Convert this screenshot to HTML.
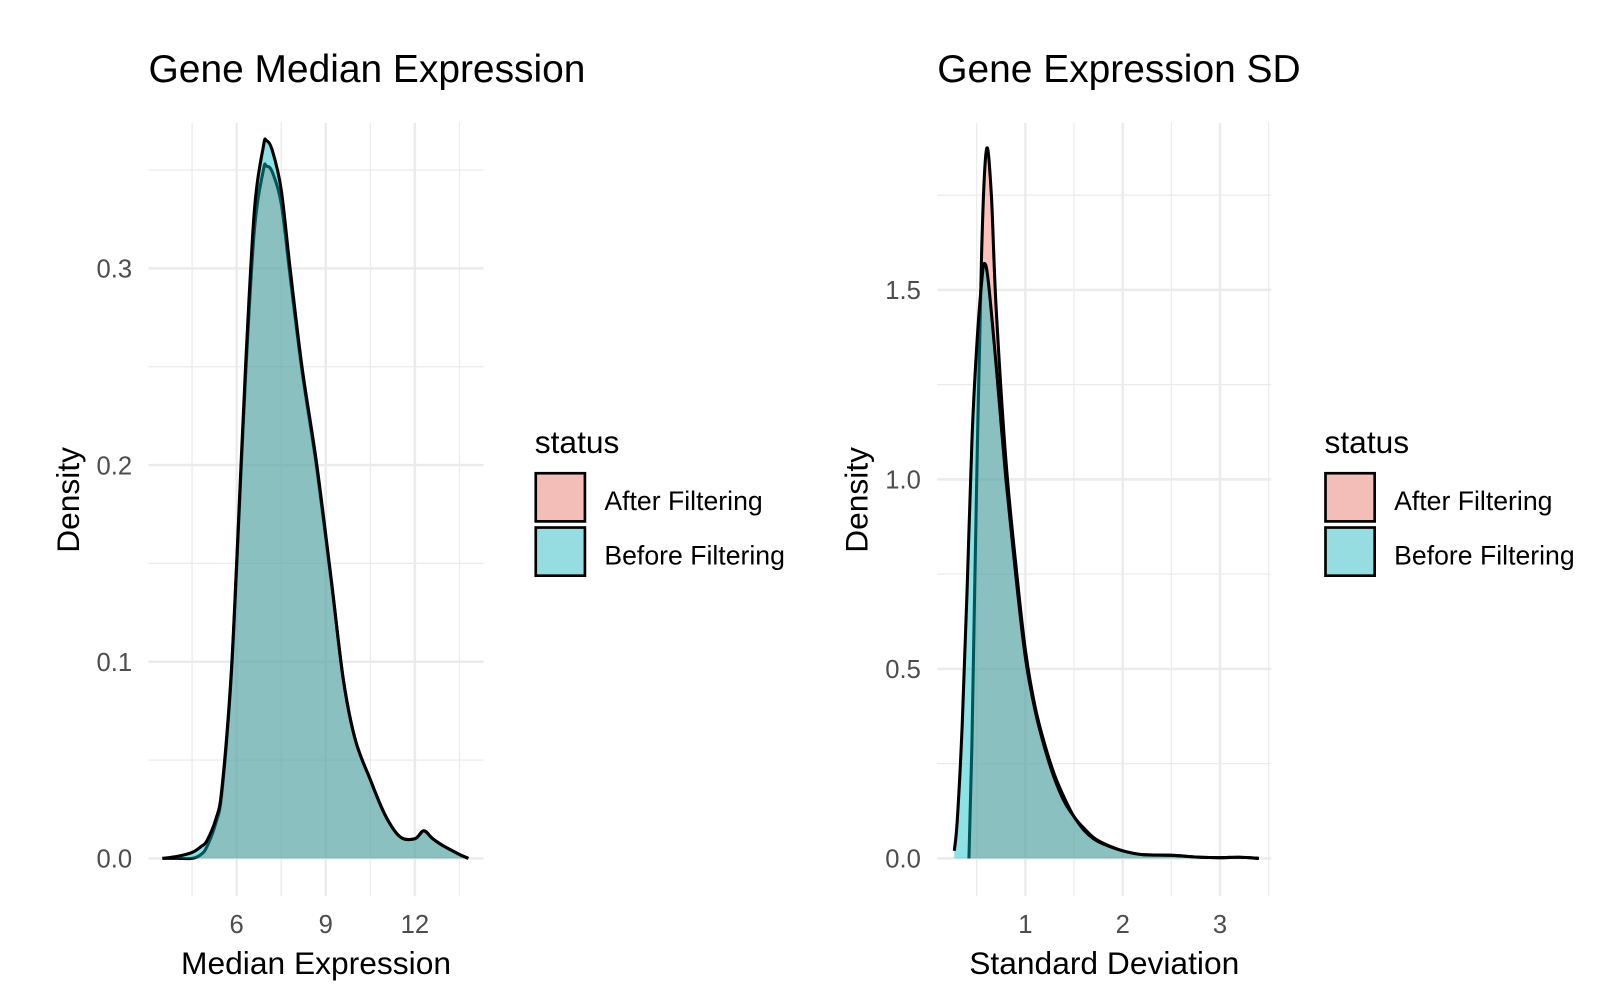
<!DOCTYPE html>
<html><head><meta charset="utf-8"><style>
html,body{margin:0;padding:0;background:#fff;}
svg{display:block;font-family:"Liberation Sans",Arial,sans-serif;}
</style></head><body>
<svg id="chart" width="1598" height="1002" viewBox="0 0 1560 978.2" xmlns="http://www.w3.org/2000/svg">
<rect width="1560" height="979" fill="#fff"/>
<g id="p1"></g>
<g id="p2"></g>
</svg>
<script>
// Panel 1 data: Median Expression density
const medX = [3.5,4.0,4.5,4.8,5.0,5.3,5.5,5.8,6.0,6.3,6.6,6.9,7.0,7.2,7.5,7.8,8.2,8.7,9.2,9.6,10.0,10.5,11.0,11.5,12.0,12.3,12.6,13.0,13.5,13.8];
const medAfter = [0,0,0,0.002,0.006,0.018,0.033,0.088,0.148,0.245,0.32,0.350,0.352,0.349,0.333,0.296,0.248,0.198,0.139,0.09,0.06,0.04,0.022,0.011,0.01,0.014,0.01,0.006,0.002,0];
const medBefore = [0,0.001,0.003,0.006,0.009,0.02,0.035,0.09,0.15,0.25,0.33,0.362,0.365,0.36,0.34,0.30,0.25,0.20,0.14,0.09,0.06,0.04,0.022,0.011,0.01,0.014,0.01,0.006,0.002,0];
const medXTicks = [6,9,12];
const medYTicks = [0.0,0.1,0.2,0.3];
const medYLabels = ["0.0","0.1","0.2","0.3"];
// Panel 2 data: SD density
const sdAfterX = [0.42,0.45,0.5,0.55,0.6,0.65,0.7,0.8,0.9,1.0,1.1,1.2,1.3,1.4,1.5,1.6,1.7,1.8,2.0,2.2,2.5,2.8,3.0,3.2,3.4];
const sdAfter = [0,0.3,1.0,1.6,1.87,1.75,1.45,1.05,0.78,0.55,0.4,0.3,0.22,0.16,0.11,0.08,0.055,0.04,0.02,0.01,0.008,0.003,0.002,0.003,0];
const sdBeforeX = [0.27,0.3,0.35,0.4,0.45,0.5,0.55,0.58,0.62,0.7,0.8,0.9,1.0,1.1,1.2,1.3,1.4,1.5,1.6,1.7,1.8,2.0,2.2,2.5,2.8,3.0,3.2,3.4];
const sdBefore = [0.02,0.1,0.35,0.7,1.1,1.35,1.52,1.57,1.52,1.3,1.0,0.75,0.53,0.39,0.29,0.21,0.15,0.11,0.075,0.052,0.038,0.02,0.01,0.008,0.003,0.002,0.003,0];
const sdXTicks = [1,2,3];
const sdYTicks = [0,0.5,1.0,1.5];
const sdYLabels = ["0.0","0.5","1.0","1.5"];
const statusLabels = ["After Filtering","Before Filtering"];

const NS="http://www.w3.org/2000/svg";
function mk(parent,tag,attrs,text){const e=document.createElementNS(NS,tag);for(const k in attrs)e.setAttribute(k,attrs[k]);if(text!==undefined)e.textContent=text;parent.appendChild(e);return e;}
function smooth(pts){
  let d='M'+pts[0][0].toFixed(1)+','+pts[0][1].toFixed(1);
  for(let i=0;i<pts.length-1;i++){
    const p0=pts[Math.max(0,i-1)],p1=pts[i],p2=pts[i+1],p3=pts[Math.min(pts.length-1,i+2)];
    const c1=[p1[0]+(p2[0]-p0[0])/6,p1[1]+(p2[1]-p0[1])/6];
    const c2=[p2[0]-(p3[0]-p1[0])/6,p2[1]-(p3[1]-p1[1])/6];
    d+=' C'+c1[0].toFixed(1)+','+c1[1].toFixed(1)+' '+c2[0].toFixed(1)+','+c2[1].toFixed(1)+' '+p2[0].toFixed(1)+','+p2[1].toFixed(1);
  }
  return d;
}

function panel(g,cfg){
  const sx=v=>cfg.x0px+(v-cfg.x0)*cfg.xs;
  const sy=v=>838-v*cfg.ys;
  for(const v of cfg.xMinor){const l=mk(g,'line',{x1:sx(v),x2:sx(v),y1:cfg.top,y2:875,stroke:'#ebebeb','stroke-width':1.2});
    
    }
  for(const v of cfg.yMinor){const l=mk(g,'line',{x1:cfg.left,x2:cfg.right,y1:sy(v),y2:sy(v),stroke:'#ebebeb','stroke-width':1.2});
    
    }
  cfg.xt.forEach(v=>{const l=mk(g,'line',{x1:sx(v),x2:sx(v),y1:cfg.top,y2:875,stroke:'#ebebeb','stroke-width':2.4});
    
    
    const t=mk(g,'text',{x:sx(v),y:911,'text-anchor':'middle','font-size':25,fill:'#4d4d4d'},String(v));
    
    });
  cfg.yt.forEach((v,i)=>{const l=mk(g,'line',{x1:cfg.left,x2:cfg.right,y1:sy(v),y2:sy(v),stroke:'#ebebeb','stroke-width':2.4});
    
    
    const t=mk(g,'text',{x:cfg.left-16,y:sy(v)+9,'text-anchor':'end','font-size':25,fill:'#4d4d4d'},cfg.yl[i]);
    
    });
  const series=[[cfg.ax,cfg.ay,'#F8766D','after-filtering-density'],[cfg.bx,cfg.by,'#00BFC4','before-filtering-density']];
  series.forEach(([xs,ys,c,n])=>{
    const pts=xs.map((x,i)=>[sx(x),sy(ys[i])]);
    const line=smooth(pts);
    const d=line+' L'+sx(xs[xs.length-1]).toFixed(1)+','+sy(0)+' L'+sx(xs[0]).toFixed(1)+','+sy(0)+' Z';
    mk(g,'path',{d:d,fill:c,'fill-opacity':0.45,stroke:'none'});
    const p=mk(g,'path',{d:line,fill:'none',stroke:'#000','stroke-width':3,'stroke-linejoin':'round'});
    
    
  });
  const title=mk(g,'text',{x:cfg.left,y:80,'font-size':38,fill:'#000'},cfg.title);
  
  
  const xl=mk(g,'text',{x:(cfg.left+cfg.right)/2,y:951,'text-anchor':'middle','font-size':31,fill:'#000'},cfg.xlab);
  
  
  const yl=mk(g,'text',{x:0,y:0,'text-anchor':'middle','font-size':31,fill:'#000',transform:'translate('+(cfg.left-68)+',488) rotate(-90)'},'Density');
  
  
  const lx=cfg.legX;
  const lt=mk(g,'text',{x:lx,y:442,'font-size':31,fill:'#000'},'status');
  
  
  ['#F3BEB8','#95DDE0'].forEach((c,i)=>{
    const r=mk(g,'rect',{x:lx+1,y:462+i*53,width:48,height:47,fill:c,stroke:'#000','stroke-width':2.6});
    
    
    const t=mk(g,'text',{x:lx+68,y:498+i*53,'font-size':26,fill:'#000'},statusLabels[i]);
    
    
  });
}
panel(document.getElementById('p1'),{x0:6,x0px:231,xs:29,ys:1920,top:120,left:145,right:472,
  xMinor:[4.5,7.5,10.5,13.5],yMinor:[0.05,0.15,0.25,0.35],xt:medXTicks,yt:medYTicks,yl:medYLabels,
  ax:medX,ay:medAfter,bx:medX,by:medBefore,title:'Gene Median Expression',xlab:'Median Expression',legX:522});
panel(document.getElementById('p2'),{x0:1,x0px:1001,xs:95,ys:370,top:120,left:915,right:1241,
  xMinor:[0.5,1.5,2.5,3.5],yMinor:[0.25,0.75,1.25,1.75],xt:sdXTicks,yt:sdYTicks,yl:sdYLabels,
  ax:sdAfterX,ay:sdAfter,bx:sdBeforeX,by:sdBefore,title:'Gene Expression SD',xlab:'Standard Deviation',legX:1293});
</script>
</body></html>
